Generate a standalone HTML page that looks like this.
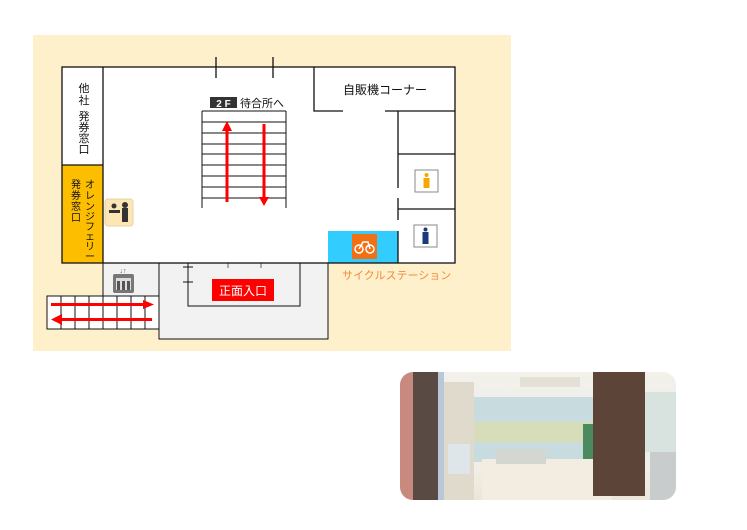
<!DOCTYPE html>
<html><head><meta charset="utf-8"><style>
body{margin:0;background:#fff;width:747px;height:530px;overflow:hidden;font-family:"Liberation Sans","Noto Sans CJK JP",sans-serif}
svg text{font-family:"Liberation Sans","Noto Sans CJK JP",sans-serif}
.ph{position:absolute;left:400px;top:372px;width:276px;height:128px;border-radius:13px;overflow:hidden;background:linear-gradient(#f4f1ea 0%,#e8ecec 50%,#f1eee6 75%,#ece6d8 100%)}
.ph div{position:absolute}
</style></head><body>
<svg width="747" height="530" style="position:absolute;left:0;top:0">
<rect x="33" y="35" width="478" height="316" fill="#fff0cc"/>
<rect x="103" y="263" width="56" height="33" fill="#f2f2f2" stroke="#111" stroke-width="1"/>
<rect x="159" y="263" width="169" height="76" fill="#f2f2f2" stroke="#111" stroke-width="1"/>
<polyline points="188,263 188,306 300,306 300,263" fill="none" stroke="#111"/>
<line x1="183" y1="267" x2="193" y2="267" stroke="#111"/><line x1="183" y1="282" x2="193" y2="282" stroke="#111"/>
<line x1="228" y1="257" x2="228" y2="268" stroke="#666"/><line x1="261" y1="257" x2="261" y2="268" stroke="#666"/>
<rect x="212" y="279" width="62" height="22" fill="#ff0000"/>
<text x="243" y="295" font-size="12" fill="#fff" text-anchor="middle">正面入口</text>
<rect x="47" y="296" width="112" height="33" fill="#fff" stroke="#111"/>
<g stroke="#111"><line x1="61" y1="296" x2="61" y2="329"/><line x1="75" y1="296" x2="75" y2="329"/><line x1="89" y1="296" x2="89" y2="329"/><line x1="103" y1="296" x2="103" y2="329"/><line x1="117" y1="296" x2="117" y2="329"/><line x1="131" y1="296" x2="131" y2="329"/><line x1="145" y1="296" x2="145" y2="329"/></g>
<rect x="51" y="303" width="92" height="3" fill="#f00"/><polygon points="143,300 154,304.5 143,309" fill="#f00"/>
<rect x="62" y="318" width="90" height="3" fill="#f00"/><polygon points="62,314 51,319.5 62,325" fill="#f00"/>
<rect x="113" y="274" width="21" height="19" rx="2" fill="#777"/>
<rect x="116" y="278" width="15" height="12" fill="#ddd"/>
<g fill="#555"><rect x="117" y="281" width="3" height="9"/><rect x="122" y="281" width="3" height="9"/><rect x="127" y="281" width="3" height="9"/></g>
<text x="123" y="273" font-size="7" fill="#555" text-anchor="middle">↓↑</text>
<rect x="62" y="67" width="393" height="196" fill="#fff"/>
<rect x="62" y="165" width="41" height="98" fill="#fdbe00"/>
<rect x="328" y="231" width="70" height="32" fill="#33ccff"/>
<g stroke="#111" stroke-width="1.3" fill="none">
<rect x="62" y="67" width="393" height="196"/>
<line x1="103" y1="67" x2="103" y2="263"/>
<line x1="62" y1="165" x2="103" y2="165"/>
<polyline points="314,67 314,111 343,111"/>
<line x1="385" y1="111" x2="455" y2="111"/>
<line x1="398" y1="111" x2="398" y2="188"/>
<line x1="398" y1="198" x2="398" y2="220"/>
<line x1="398" y1="231" x2="398" y2="263"/>
<line x1="398" y1="154" x2="455" y2="154"/>
<line x1="398" y1="209" x2="455" y2="209"/>
<line x1="216" y1="57" x2="216" y2="78"/><line x1="273" y1="57" x2="273" y2="78"/>
</g>
<text x="385" y="94" font-size="12" fill="#111" text-anchor="middle">自販機コーナー</text>
<g font-size="11" fill="#111" text-anchor="middle"><text x="84" y="92">他</text><text x="84" y="104">社</text><text x="84" y="120">発</text><text x="84" y="131">券</text><text x="84" y="142">窓</text><text x="84" y="153">口</text></g>
<g font-size="10" fill="#111" text-anchor="middle"><text x="76" y="188">発</text><text x="76" y="199">券</text><text x="76" y="210">窓</text><text x="76" y="221">口</text>
<text x="90" y="188">オ</text><text x="90" y="199">レ</text><text x="90" y="210">ン</text><text x="90" y="220">ジ</text><text x="90" y="230">フ</text><text x="90" y="240">ェ</text><text x="90" y="250">リ</text><text x="90" y="260">ー</text></g>
<rect x="210" y="97" width="27" height="11" fill="#333"/><text x="223.5" y="107" font-size="10" font-weight="bold" fill="#fff" text-anchor="middle">2 F</text>
<text x="240" y="107" font-size="11" fill="#111">待合所へ</text>
<g stroke="#111" stroke-width="1"><line x1="202" y1="111" x2="202" y2="208"/><line x1="286" y1="111" x2="286" y2="208"/>
<line x1="202" y1="111" x2="286" y2="111"/><line x1="202" y1="122" x2="286" y2="122"/><line x1="202" y1="133" x2="286" y2="133"/><line x1="202" y1="144" x2="286" y2="144"/><line x1="202" y1="154" x2="286" y2="154"/><line x1="202" y1="165" x2="286" y2="165"/><line x1="202" y1="176" x2="286" y2="176"/><line x1="202" y1="187" x2="286" y2="187"/><line x1="202" y1="198" x2="286" y2="198"/></g>
<rect x="225.5" y="128" width="3" height="74" fill="#f00"/><polygon points="222,131 227,121 232,131" fill="#f00"/>
<rect x="262.5" y="124" width="3" height="74" fill="#f00"/><polygon points="259,197 264,206 269,197" fill="#f00"/>
<rect x="105" y="199" width="28" height="27" rx="3" fill="#fde6b4" stroke="#e5d3a8"/>
<rect x="109" y="210" width="11" height="3" fill="#333"/><circle cx="114" cy="206" r="2.5" fill="#333"/><circle cx="125" cy="205" r="3" fill="#333"/><rect x="122" y="208" width="6" height="14" fill="#333"/>
<rect x="415" y="170" width="23" height="22" fill="#fff" stroke="#888"/><circle cx="426.5" cy="175" r="2" fill="#f7a800"/><rect x="423.5" y="178" width="6" height="10" fill="#f7a800"/>
<rect x="414" y="225" width="23" height="22" fill="#fff" stroke="#888"/><circle cx="425.5" cy="229.5" r="2" fill="#1a3a7a"/><rect x="422.5" y="232" width="6" height="12" fill="#1a3a7a"/>
<rect x="352" y="234" width="25" height="25" fill="#f26f14"/>
<circle cx="359" cy="249" r="4" fill="none" stroke="#fff" stroke-width="1.5"/><circle cx="370" cy="249" r="4" fill="none" stroke="#fff" stroke-width="1.5"/><polyline points="359,249 363,242 368,242 370,249" fill="none" stroke="#fff" stroke-width="1.5"/>
<text x="342" y="279" font-size="11" fill="#f08a3c">サイクルステーション</text>
</svg>
<div class="ph">
<div style="left:0;top:0;width:13px;height:128px;background:#c88a7e"></div>
<div style="left:13px;top:0;width:25px;height:128px;background:#5a4a44"></div>
<div style="left:38px;top:0;width:6px;height:128px;background:#b8c8d8"></div>
<div style="left:44px;top:10px;width:30px;height:118px;background:#e0dacd"></div>
<div style="left:74px;top:25px;width:120px;height:65px;background:#c8dcdf"></div>
<div style="left:74px;top:50px;width:120px;height:20px;background:#d6ddb8"></div>
<div style="left:120px;top:5px;width:60px;height:10px;background:#e3e0d6"></div>
<div style="left:82px;top:87px;width:130px;height:41px;background:#f2ede0"></div>
<div style="left:96px;top:77px;width:50px;height:15px;background:#d4d6d2"></div>
<div style="left:48px;top:72px;width:22px;height:30px;background:#dfe6ea"></div>
<div style="left:183px;top:52px;width:12px;height:35px;background:#4a8a5e"></div>
<div style="left:193px;top:0;width:52px;height:124px;background:#5c4438"></div>
<div style="left:245px;top:20px;width:31px;height:60px;background:#d8e2de"></div>
<div style="left:250px;top:80px;width:26px;height:48px;background:#c8cccd"></div>
</div>
</body></html>
